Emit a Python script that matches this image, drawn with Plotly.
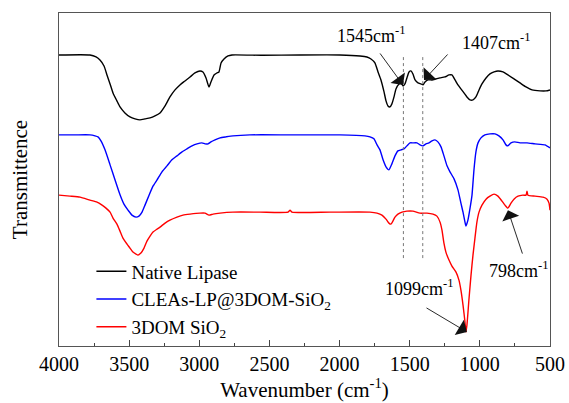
import plotly.graph_objects as go

# ---- data (wavenumber cm-1, offset transmittance, arbitrary units) ----
native_wn = [4000, 3779, 3736, 3708, 3679, 3658, 3636, 3615, 3587, 3565, 3530, 3494, 3458, 3423, 3387, 3351,
             3316, 3280, 3244, 3209, 3173, 3138, 3102, 3066, 3031, 2995, 2974, 2952, 2931, 2917, 2895, 2874,
             2860, 2845, 2824, 2795, 2767, 2550, 2282, 1997, 1854, 1805, 1776, 1748, 1726, 1705, 1683, 1669,
             1655, 1641, 1627, 1612, 1598, 1576, 1562, 1548, 1534, 1520, 1505, 1491, 1477, 1462, 1441, 1420,
             1405, 1391, 1370, 1341, 1313, 1284, 1249, 1220, 1199, 1177, 1156, 1135, 1113, 1092, 1070, 1049,
             1028, 1006, 985, 956, 928, 899, 871, 835, 800, 757, 714, 671, 628, 571, 528, 500]
native_t = [0.874, 0.874, 0.868, 0.859, 0.841, 0.814, 0.787, 0.760, 0.736, 0.718, 0.700, 0.688, 0.682, 0.679,
            0.682, 0.685, 0.691, 0.700, 0.721, 0.748, 0.769, 0.784, 0.796, 0.808, 0.820, 0.826, 0.823, 0.805,
            0.778, 0.793, 0.814, 0.820, 0.823, 0.850, 0.862, 0.871, 0.874, 0.873, 0.874, 0.874, 0.871, 0.868,
            0.862, 0.850, 0.823, 0.799, 0.763, 0.736, 0.721, 0.718, 0.727, 0.748, 0.772, 0.787, 0.790, 0.781,
            0.787, 0.805, 0.823, 0.826, 0.817, 0.799, 0.790, 0.787, 0.784, 0.793, 0.799, 0.799, 0.802, 0.805,
            0.808, 0.814, 0.814, 0.799, 0.784, 0.772, 0.760, 0.748, 0.739, 0.739, 0.748, 0.769, 0.787, 0.805,
            0.817, 0.823, 0.826, 0.823, 0.814, 0.802, 0.790, 0.778, 0.769, 0.766, 0.766, 0.769]

cleas_wn = [4000, 3886, 3779, 3743, 3722, 3701, 3672, 3636, 3601, 3565, 3537, 3508, 3480, 3451, 3430, 3408,
            3387, 3358, 3330, 3301, 3266, 3230, 3195, 3159, 3123, 3088, 3052, 3016, 2981, 2959, 2938, 2917,
            2888, 2852, 2810, 2760, 2639, 2353, 1997, 1819, 1783, 1755, 1733, 1712, 1690, 1669, 1648, 1627,
            1605, 1584, 1562, 1541, 1520, 1498, 1477, 1448, 1427, 1405, 1384, 1363, 1341, 1320, 1299, 1277,
            1256, 1234, 1213, 1184, 1156, 1135, 1120, 1106, 1099, 1085, 1070, 1056, 1042, 1028, 1013, 992,
            964, 928, 892, 864, 835, 814, 800, 778, 750, 714, 664, 607, 536, 500]
cleas_t = [0.634, 0.634, 0.634, 0.631, 0.628, 0.616, 0.589, 0.544, 0.499, 0.454, 0.426, 0.408, 0.393, 0.387,
           0.390, 0.402, 0.423, 0.453, 0.480, 0.499, 0.523, 0.541, 0.559, 0.571, 0.583, 0.592, 0.601, 0.607,
           0.610, 0.607, 0.607, 0.613, 0.619, 0.625, 0.628, 0.631, 0.634, 0.634, 0.634, 0.631, 0.628, 0.622,
           0.604, 0.589, 0.559, 0.538, 0.529, 0.547, 0.571, 0.586, 0.589, 0.592, 0.601, 0.610, 0.610, 0.610,
           0.604, 0.601, 0.607, 0.610, 0.616, 0.619, 0.613, 0.598, 0.571, 0.541, 0.523, 0.502, 0.469, 0.429,
           0.402, 0.372, 0.360, 0.378, 0.414, 0.453, 0.529, 0.583, 0.610, 0.625, 0.634, 0.637, 0.637, 0.631,
           0.619, 0.604, 0.601, 0.610, 0.613, 0.610, 0.610, 0.607, 0.604, 0.595]

sio2_wn = [4000, 3922, 3850, 3779, 3729, 3693, 3665, 3636, 3615, 3587, 3565, 3544, 3515, 3494, 3473, 3451,
           3437, 3416, 3394, 3373, 3351, 3330, 3301, 3280, 3244, 3209, 3159, 3116, 3066, 2995, 2959, 2931,
           2902, 2852, 2760, 2567, 2368, 2353, 2339, 2068, 1783, 1733, 1698, 1669, 1648, 1634, 1620, 1605,
           1584, 1555, 1520, 1477, 1427, 1377, 1334, 1306, 1284, 1270, 1256, 1242, 1220, 1199, 1170, 1149,
           1135, 1120, 1106, 1099, 1092, 1078, 1063, 1049, 1035, 1021, 1006, 985, 956, 928, 899, 871, 842,
           821, 800, 778, 757, 728, 693, 671, 664, 657, 607, 550, 521, 507, 500]
sio2_t = [0.453, 0.450, 0.447, 0.438, 0.432, 0.423, 0.414, 0.402, 0.384, 0.366, 0.345, 0.324, 0.306, 0.294,
          0.282, 0.276, 0.273, 0.279, 0.294, 0.315, 0.330, 0.342, 0.351, 0.357, 0.369, 0.378, 0.387, 0.393,
          0.396, 0.399, 0.399, 0.393, 0.396, 0.399, 0.402, 0.402, 0.402, 0.408, 0.402, 0.402, 0.402, 0.399,
          0.393, 0.381, 0.369, 0.366, 0.375, 0.387, 0.396, 0.402, 0.405, 0.405, 0.399, 0.399, 0.396, 0.390,
          0.372, 0.348, 0.309, 0.282, 0.258, 0.240, 0.222, 0.198, 0.168, 0.123, 0.072, 0.042, 0.063, 0.138,
          0.213, 0.273, 0.324, 0.372, 0.402, 0.423, 0.441, 0.450, 0.456, 0.450, 0.435, 0.423, 0.414, 0.429,
          0.441, 0.450, 0.453, 0.453, 0.465, 0.453, 0.450, 0.447, 0.441, 0.429, 0.408]

series_names = ["Native Lipase", "CLEAs-LP@3DOM-SiO<sub>2</sub>", "3DOM SiO<sub>2</sub>"]
series_colors = ["#000000", "#0000FF", "#FF0000"]

x_ticks = [4000, 3500, 3000, 2500, 2000, 1500, 1000, 500]
marker_wn = [1545, 1407]

FONT = "Liberation Serif"

fig = go.Figure()
for wn, t, name, col in zip([native_wn, cleas_wn, sio2_wn], [native_t, cleas_t, sio2_t],
                            series_names, series_colors):
    fig.add_trace(go.Scatter(x=wn, y=t, mode="lines", name=name,
                             line=dict(color=col, width=1.4, shape="spline", smoothing=0.5)))

for m in marker_wn:
    fig.add_shape(type="line", xref="x", yref="y", x0=m, x1=m, y0=0.264, y1=0.868,
                  line=dict(color="#777777", width=1, dash="dot"))

labels = [
    ("1545cm<sup>-1</sup>", 2033, 0.935),
    ("1407cm<sup>-1</sup>", 1142, 0.915),
    ("1099cm<sup>-1</sup>", 1690, 0.176),
    ("798cm<sup>-1</sup>", 950, 0.230),
]
for txt, x, y in labels:
    fig.add_annotation(x=x, y=y, xref="x", yref="y", text=txt, showarrow=False,
                       xanchor="left", yanchor="middle", font=dict(family=FONT, size=18, color="black"))

arrows = [
    (1548, 0.784, 1719, 0.883),
    (1398, 0.799, 1220, 0.880),
    (1092, 0.042, 1391, 0.117),
    (800, 0.408, 693, 0.273),
]
for x, y, ax, ay in arrows:
    fig.add_annotation(x=x, y=y, ax=ax, ay=ay, xref="x", yref="y", axref="x", ayref="y",
                       text="", showarrow=True, arrowhead=1, arrowsize=3.3, arrowwidth=0.9,
                       arrowcolor="#111111", standoff=0, startstandoff=0)

fig.update_layout(
    width=569, height=403,
    margin=dict(l=59, r=19, t=13, b=57, autoexpand=False),
    paper_bgcolor="white", plot_bgcolor="white",
    font=dict(family=FONT, size=20, color="black"),
    showlegend=True,
    legend=dict(x=0.066, y=0.281, xanchor="left", yanchor="top", bgcolor="rgba(0,0,0,0)",
                font=dict(family=FONT, size=19, color="black"), tracegroupgap=0),
    xaxis=dict(range=[4000, 500], tickvals=x_ticks, ticks="inside", ticklen=6, tickcolor="#444",
               minor=dict(dtick=250, ticks="inside", ticklen=3, tickcolor="#444", tick0=500),
               showline=True, linecolor="#555", linewidth=1, mirror=True, showgrid=False, zeroline=False,
               automargin=False, tickfont=dict(family=FONT, size=20),
               title=dict(text="Wavenumber (cm<sup>-1</sup>)", font=dict(family=FONT, size=21), standoff=8)),
    yaxis=dict(range=[0, 1], showticklabels=False, ticks="", showline=True, linecolor="#555",
               linewidth=1, mirror=True, showgrid=False, zeroline=False, automargin=False,
               title=dict(text="Transmittence", font=dict(family=FONT, size=21), standoff=24)),
)

fig.write_html("out.html", config={"displayModeBar": False},
               post_script="document.body.style.margin='0';document.body.style.padding='0';")
